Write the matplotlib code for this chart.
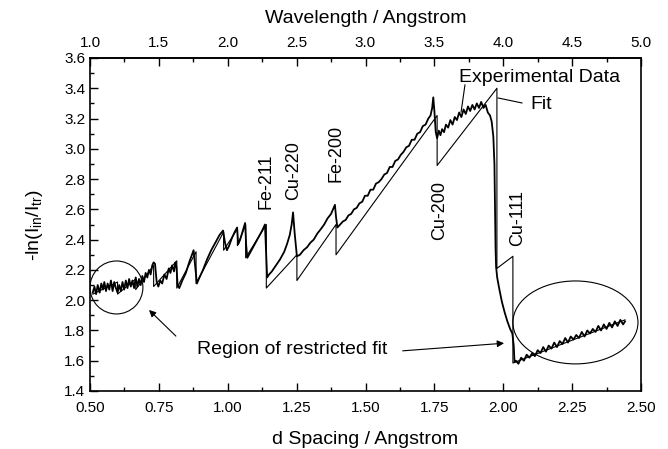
import numpy as np
import matplotlib
matplotlib.use("Agg")
import matplotlib.pyplot as plt
from matplotlib.patches import Ellipse
from matplotlib.ticker import MultipleLocator, FixedLocator

plt.rcParams['font.family'] = ['Liberation Sans', 'DejaVu Sans']
plt.rcParams['mathtext.fontset'] = 'custom'
plt.rcParams['mathtext.rm'] = 'Liberation Sans'
plt.rcParams['mathtext.it'] = 'Liberation Sans'

exp_d = [0.510, 0.516, 0.522, 0.528, 0.535, 0.541, 0.547, 0.552, 0.558, 0.564,
         0.570, 0.576, 0.582, 0.588, 0.594, 0.600, 0.606, 0.612, 0.618, 0.624,
         0.630, 0.636, 0.642, 0.648, 0.654, 0.660, 0.666, 0.672, 0.678, 0.684,
         0.690, 0.696, 0.702, 0.708, 0.714, 0.720, 0.726, 0.731, 0.736, 0.742,
         0.748, 0.755, 0.762, 0.770, 0.778, 0.786, 0.792, 0.798, 0.805, 0.810,
         0.814, 0.818, 0.824, 0.835, 0.848, 0.860, 0.870, 0.876, 0.882, 0.888,
         0.895, 0.910, 0.925, 0.940, 0.955, 0.970, 0.983, 0.990, 0.997, 1.005,
         1.015, 1.025, 1.034, 1.038, 1.045, 1.055, 1.063, 1.067, 1.071, 1.080,
         1.095, 1.110, 1.125, 1.135, 1.139, 1.143, 1.150, 1.160, 1.175, 1.190,
         1.205, 1.215, 1.225, 1.232, 1.237, 1.243, 1.251, 1.262, 1.275, 1.288,
         1.300, 1.312, 1.325, 1.338, 1.350, 1.362, 1.375, 1.389, 1.393, 1.398,
         1.408, 1.418, 1.428, 1.438, 1.448, 1.458, 1.468, 1.478, 1.488, 1.498,
         1.508, 1.518, 1.528, 1.538, 1.548, 1.558, 1.568, 1.578, 1.588, 1.598,
         1.608, 1.618, 1.628, 1.638, 1.648, 1.658, 1.668, 1.678, 1.688, 1.698,
         1.708, 1.718, 1.728, 1.736, 1.742, 1.746, 1.750, 1.755, 1.760, 1.766,
         1.772, 1.778, 1.785, 1.792, 1.800, 1.808, 1.816, 1.824, 1.832, 1.840,
         1.848, 1.856, 1.864, 1.872, 1.880, 1.888, 1.896, 1.904, 1.912, 1.920,
         1.928, 1.936, 1.944, 1.952, 1.958, 1.964, 1.968, 1.970, 1.972, 1.974,
         1.978, 1.985, 1.995, 2.005, 2.015, 2.025, 2.033, 2.038, 2.041, 2.046,
         2.055, 2.065, 2.075, 2.085, 2.095, 2.105, 2.115, 2.125, 2.135, 2.145,
         2.155, 2.165, 2.175, 2.185, 2.195, 2.205, 2.215, 2.225, 2.235, 2.245,
         2.255, 2.265, 2.275, 2.285, 2.295, 2.305, 2.315, 2.325, 2.335, 2.345,
         2.355, 2.365, 2.375, 2.385, 2.395, 2.405, 2.415, 2.425, 2.435, 2.442]
exp_v = [2.05, 2.09, 2.04, 2.10, 2.05, 2.11, 2.07, 2.12, 2.06, 2.11,
         2.07, 2.13, 2.06, 2.12, 2.08, 2.05, 2.10, 2.06, 2.12, 2.07,
         2.13, 2.08, 2.14, 2.09, 2.13, 2.08, 2.15, 2.09, 2.14, 2.10,
         2.16, 2.12, 2.18, 2.15, 2.20, 2.17, 2.23, 2.25, 2.24, 2.12,
         2.09, 2.13, 2.11, 2.17, 2.14, 2.21, 2.18, 2.23, 2.19, 2.25,
         2.22, 2.10, 2.08, 2.13, 2.18, 2.25, 2.30, 2.33, 2.22, 2.11,
         2.14, 2.20, 2.27, 2.33, 2.38, 2.43, 2.46, 2.38, 2.33, 2.36,
         2.41, 2.45, 2.48, 2.37, 2.40, 2.46, 2.51, 2.36, 2.28, 2.31,
         2.36, 2.41, 2.46, 2.50, 2.32, 2.15, 2.17, 2.19, 2.23, 2.27,
         2.32, 2.37, 2.43, 2.50, 2.58, 2.44, 2.29, 2.30, 2.33, 2.35,
         2.38, 2.40, 2.44, 2.47, 2.50, 2.54, 2.57, 2.63, 2.55, 2.48,
         2.50, 2.52, 2.53, 2.56, 2.57, 2.60, 2.61, 2.64, 2.65, 2.69,
         2.69, 2.73, 2.73, 2.77, 2.78, 2.80, 2.83, 2.84, 2.88, 2.88,
         2.92, 2.93, 2.96, 2.98, 3.01, 3.02, 3.06, 3.06, 3.10, 3.11,
         3.15, 3.16, 3.20, 3.22, 3.27, 3.34, 3.25, 3.11, 3.07, 3.12,
         3.09, 3.13, 3.11, 3.16, 3.14, 3.19, 3.16, 3.21, 3.19, 3.24,
         3.21, 3.26, 3.23, 3.28, 3.25, 3.29, 3.26, 3.30, 3.27, 3.31,
         3.27, 3.29, 3.24, 3.22, 3.18, 3.08, 2.90, 2.60, 2.35, 2.22,
         2.15, 2.08, 1.99, 1.92, 1.86, 1.81, 1.78, 1.70, 1.59, 1.60,
         1.58, 1.62, 1.60, 1.64, 1.62, 1.65, 1.63, 1.67, 1.65, 1.69,
         1.66, 1.70, 1.68, 1.72, 1.69, 1.73, 1.71, 1.75, 1.72, 1.76,
         1.74, 1.77, 1.75, 1.79, 1.76, 1.80, 1.78, 1.81, 1.79, 1.83,
         1.80, 1.84, 1.81, 1.85, 1.82, 1.86, 1.83, 1.87, 1.84, 1.86]

# fitted curve vertices
fit_d = [0.510, 0.600, 0.600, 0.666, 0.666, 0.731, 0.731, 0.815, 0.815, 0.885,
         0.885, 0.985, 0.985, 1.035, 1.035, 1.065, 1.065, 1.140, 1.140, 1.251,
         1.251, 1.393, 1.393, 1.760, 1.760, 1.977, 1.977, 2.035, 2.035, 2.442]
fit_v = [2.04, 2.12, 2.04, 2.14, 2.07, 2.23, 2.09, 2.26, 2.08, 2.32,
         2.11, 2.45, 2.33, 2.47, 2.36, 2.50, 2.28, 2.50, 2.08, 2.30,
         2.13, 2.50, 2.30, 3.22, 2.89, 3.40, 2.21, 2.29, 1.585, 1.87]

peak_labels = ['Fe-211', 'Cu-220', 'Fe-200', 'Cu-200', 'Cu-111']
peak_d = [1.139, 1.240, 1.393, 1.770, 2.053]
peak_v = [2.60, 2.66, 2.78, 2.79, 2.73]
peak_va = ['bottom', 'bottom', 'bottom', 'top', 'top']

wl_major = [1.0, 1.5, 2.0, 2.5, 3.0, 3.5, 4.0, 4.5, 5.0]
wl_minor = [1.25, 1.75, 2.25, 2.75, 3.25, 3.75, 4.25, 4.75]

fig = plt.figure(figsize=(6.68, 4.49), dpi=100)
ax = fig.add_axes([90/668, 1 - 391/449, 551/668, 333/449])

ax.plot(fit_d, fit_v, color='black', lw=0.8)
ax.plot(exp_d, exp_v, color='black', lw=1.3)

ax.set_xlim(0.5, 2.5)
ax.set_ylim(1.4, 3.6)
ax.xaxis.set_major_locator(MultipleLocator(0.25))
ax.xaxis.set_minor_locator(MultipleLocator(0.125))
ax.yaxis.set_major_locator(MultipleLocator(0.2))
ax.yaxis.set_minor_locator(MultipleLocator(0.1))
ax.xaxis.set_major_formatter(plt.FormatStrFormatter('%.2f'))
ax.yaxis.set_major_formatter(plt.FormatStrFormatter('%.1f'))
ax.tick_params(which='both', direction='in', right=False, top=False, labelsize=11, width=1)
ax.tick_params(which='major', length=6)
ax.tick_params(which='minor', length=3)
ax.tick_params(axis='x', pad=7)
for s in ax.spines.values():
    s.set_linewidth(1.2)

ax.set_xlabel('d Spacing / Angstrom', fontsize=14, labelpad=12)
ax.set_ylabel(r'-ln(I$_{\mathrm{in}}$/I$_{\mathrm{tr}}$)', fontsize=14, labelpad=14)

top = ax.secondary_xaxis('top', functions=(lambda d: 2 * d, lambda w: w / 2))
top.xaxis.set_major_locator(FixedLocator(wl_major))
top.xaxis.set_minor_locator(FixedLocator(wl_minor))
top.xaxis.set_major_formatter(plt.FormatStrFormatter('%.1f'))
top.tick_params(which='both', direction='in', labelsize=11, width=1, pad=6)
top.tick_params(which='major', length=6)
top.tick_params(which='minor', length=3)
top.spines['top'].set_linewidth(1.2)
top.set_xlabel('Wavelength / Angstrom', fontsize=14, labelpad=9)

for lab, d, v, va in zip(peak_labels, peak_d, peak_v, peak_va):
    ax.text(d, v, lab, rotation=90, ha='center', va=va, fontsize=13)

ax.add_patch(Ellipse((0.596, 2.084), 0.192, 0.350, fill=False, lw=0.8))
ax.add_patch(Ellipse((2.262, 1.853), 0.454, 0.548, fill=False, lw=0.8))

ax.text(1.233, 1.671, 'Region of restricted fit', ha='center', va='center', fontsize=14)
ax.annotate('', xy=(0.707, 1.948), xytext=(0.819, 1.75),
            arrowprops=dict(arrowstyle='-|>', color='black', lw=0.8, mutation_scale=10))
ax.annotate('', xy=(2.013, 1.717), xytext=(1.625, 1.664),
            arrowprops=dict(arrowstyle='-|>', color='black', lw=0.8, mutation_scale=10))

ax.text(2.133, 3.474, 'Experimental Data', ha='center', va='center', fontsize=14)
ax.plot([1.861, 1.847], [3.422, 3.243], color='black', lw=0.8)
ax.text(2.137, 3.29, 'Fit', ha='center', va='center', fontsize=14)
ax.plot([1.981, 2.068], [3.336, 3.303], color='black', lw=0.8)

fig.savefig('out.png', dpi=100)
